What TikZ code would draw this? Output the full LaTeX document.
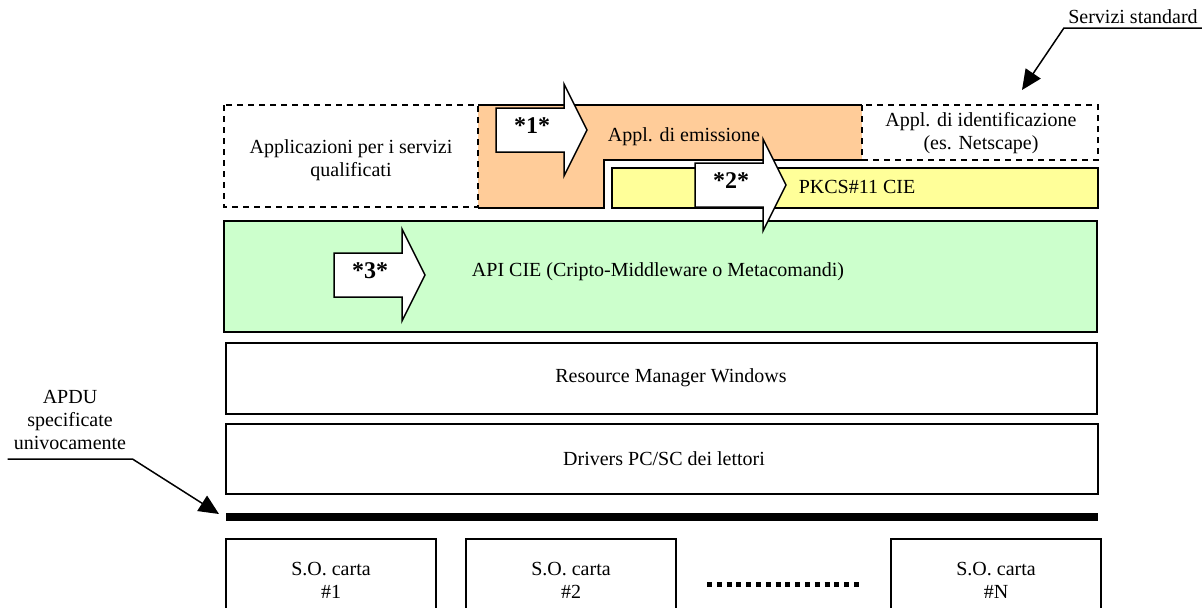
\documentclass[tikz,border=0pt]{standalone}
\usepackage{fontspec}
\setmainfont{Liberation Serif}
\usetikzlibrary{arrows.meta}
\definecolor{emissione}{HTML}{FFCC99}
\definecolor{pkcs}{HTML}{FFFF99}
\definecolor{apicie}{HTML}{CCFFCC}
\tikzset{
  strato/.style={line width=1pt, draw=black},
  tratteggio/.style={line width=1pt, dash pattern=on 3pt off 2.5pt},
  testo/.style={font=\fontsize{10}{11.5}\selectfont, align=center, inner sep=1pt},
  numero/.style={font=\fontsize{12}{14}\selectfont\bfseries, inner sep=0pt},
  richiamo/.style={line width=0.75pt, -{Triangle[length=10pt,width=9pt]}},
  pics/freccione/.style={code={
    \draw[line width=0.75pt, fill=white] (0,-22) -- (68,-22) -- (68,-46) -- (91,0) -- (68,46) -- (68,22) -- (0,22) -- cycle;
    \node[numero] (-num) at (36,-4) {#1};
  }}
}
\begin{document}
\begin{tikzpicture}[x=0.5pt,y=-0.5pt]
  \useasboundingbox (0,0) rectangle (1202,607);
  \fill[emissione] (478,105) -- (862,105) -- (862,160) -- (604,160) -- (604,208) -- (478,208) -- cycle;
  \draw[strato] (478,105) -- (862,105);
  \draw[strato] (478,208) -- (604,208) -- (604,160) -- (862,160);
  \node[testo] (emiss) at (684,137) {Appl. di emissione};
  \draw[tratteggio, fill=white] (224,105) rectangle (478,207);
  \node[testo] (qualif) at (351,160) {Applicazioni per i servizi\\qualificati};
  \draw[tratteggio, fill=white] (862,105) rectangle (1098,160);
  \node[testo] (ident) at (981,133) {Appl. di identificazione\\(es. Netscape)};
  \draw[strato, fill=pkcs] (612,168) rectangle (1098,208);
  \node[testo] (pkcs) at (857,187) {PKCS\#11 CIE};
  \draw[strato, fill=apicie] (224,221) rectangle (1097,332);
  \node[testo] (api) at (658,272) {API CIE (Cripto-Middleware o Metacomandi)};
  \draw[strato] (226,343) rectangle (1097,414);
  \node[testo] (resman) at (671,378) {Resource Manager Windows};
  \draw[strato] (226,424) rectangle (1098,494);
  \node[testo] (drivers) at (664,459) {Drivers PC/SC dei lettori};
  \pic (f1) at (496,130) {freccione={*1*}};
  \pic (f2) at (695,185) {freccione={*2*}};
  \pic (f3) at (334,275) {freccione={*3*}};
  \coordinate (bus-w) at (226,517);
  \coordinate (bus-e) at (1098,517);
  \draw[line width=4pt] (bus-w) -- (bus-e);
  \draw[strato] (226,539) rectangle (436,640);
  \node[testo] (carta1) at (331,580) {S.O. carta\\\#1};
  \draw[strato] (466,539) rectangle (676,640);
  \node[testo] (carta2) at (571,580) {S.O. carta\\\#2};
  \draw[strato] (891,539) rectangle (1101,640);
  \node[testo] (cartaN) at (996,580) {S.O. carta\\\#N};
  \draw[line width=2.5pt, dash pattern=on 2.5pt off 2.4pt] (707,584) -- (862,584);
  \node[testo, anchor=south, inner xsep=2pt, inner ysep=2pt] (servizi) at (1133,28) {Servizi standard};
  \coordinate (servizi-tip) at (1022,90);
  \draw[richiamo] (servizi.south east) -- (servizi.south west) -- (servizi-tip);
  \node[testo, anchor=south, inner xsep=3pt, inner ysep=4.5pt] (apdu) at (70,459) {APDU\\specificate\\univocamente};
  \coordinate (apdu-tip) at (219,514);
  \draw[richiamo] (apdu.south west) -- (apdu.south east) -- (apdu-tip);
\end{tikzpicture}
\end{document}
